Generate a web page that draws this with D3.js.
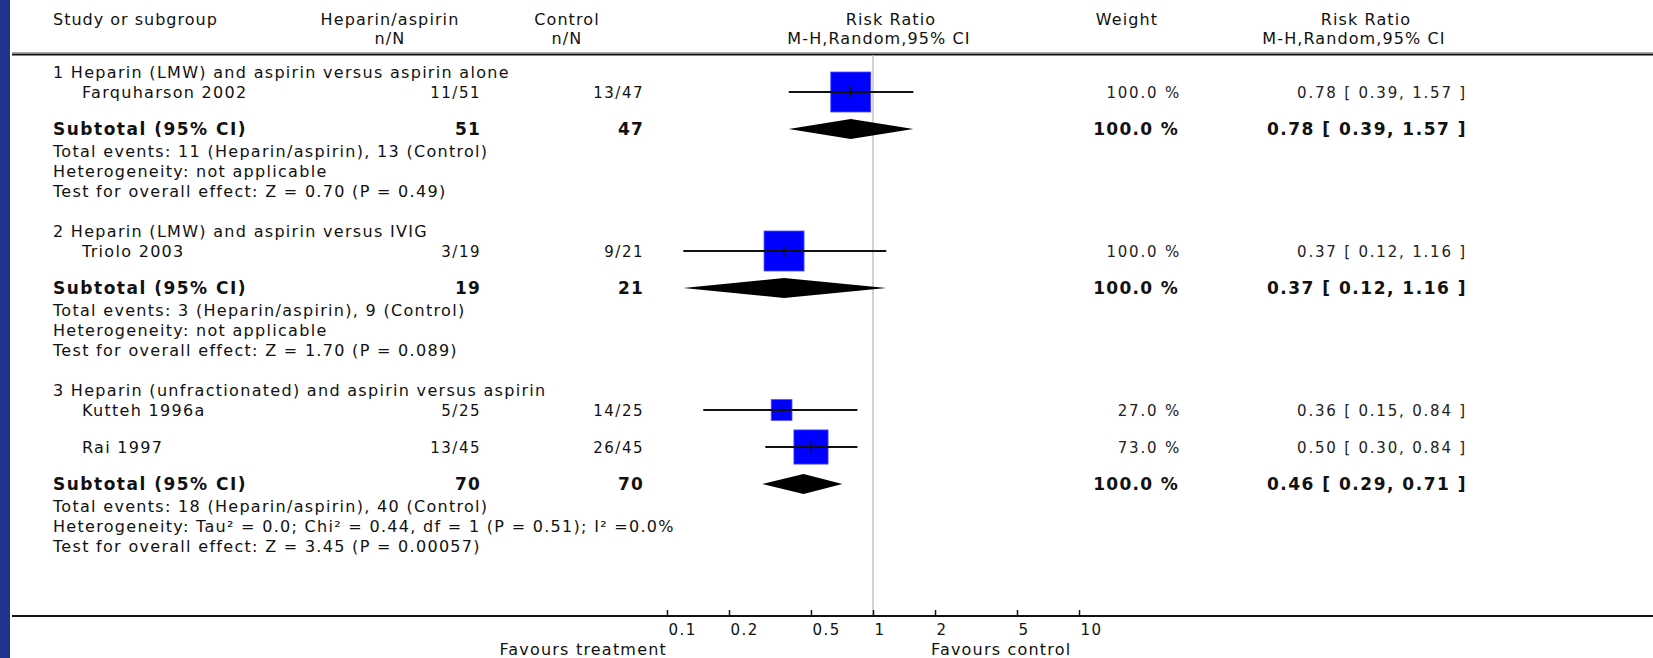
<!DOCTYPE html>
<html>
<head>
<meta charset="utf-8">
<script src="https://cdn.jsdelivr.net/npm/d3@7/dist/d3.min.js"></script>
<style>
  html, body { margin: 0; padding: 0; background: #ffffff; }
  svg { display: block; }
  text { font-family: "DejaVu Sans", Verdana, sans-serif; fill: #111; }
</style>
</head>
<body>
<svg id="chart" width="1653" height="658"></svg>
<script>
// ---------------- data ----------------
const groupTitles = [
  "1 Heparin (LMW) and aspirin versus aspirin alone",
  "2 Heparin (LMW) and aspirin versus IVIG",
  "3 Heparin (unfractionated) and aspirin versus aspirin"
];
const studyNames   = ["Farquharson 2002", "Triolo 2003", "Kutteh 1996a", "Rai 1997"];
const studyGroup   = [0, 1, 2, 2];
const expEvents    = [11, 3, 5, 13];
const expTotal     = [51, 19, 25, 45];
const ctrlEvents   = [13, 9, 14, 26];
const ctrlTotal    = [47, 21, 25, 45];
const studyRR      = [0.78, 0.37, 0.36, 0.50];
const studyLow     = [0.39, 0.12, 0.15, 0.30];
const studyHigh    = [1.57, 1.16, 0.84, 0.84];
const studyWeight  = [100.0, 100.0, 27.0, 73.0];

const subExpTotal   = [51, 19, 70];
const subCtrlTotal  = [47, 21, 70];
const subExpEvents  = [11, 3, 18];
const subCtrlEvents = [13, 9, 40];
const subRR         = [0.78, 0.37, 0.46];
const subLow        = [0.39, 0.12, 0.29];
const subHigh       = [1.57, 1.16, 0.71];
const subWeight     = [100.0, 100.0, 100.0];
const heterogeneity = [
  "not applicable",
  "not applicable",
  "Tau\u00B2 = 0.0; Chi\u00B2 = 0.44, df = 1 (P = 0.51); I\u00B2 =0.0%"
];
const overallEffect = [
  "Z = 0.70 (P = 0.49)",
  "Z = 1.70 (P = 0.089)",
  "Z = 3.45 (P = 0.00057)"
];
const tickValues = [0.1, 0.2, 0.5, 1, 2, 5, 10];
const tickLabels = ["0.1", "0.2", "0.5", "1", "2", "5", "10"];
const expLabel = "Heparin/aspirin";
const ctrlLabel = "Control";

// ---------------- layout ----------------
const W = 1653, H = 658;
const svg = d3.select("#chart");
const col = { left: 53, indent: 82, exp: 481, ctrl: 644, weight: 1181, rr: 1467 };
const axisY = 616, headerLineY = 54;

const x = d3.scaleLog().domain([0.1, 10]).range([667, 1079]);
const side = d3.scaleSqrt().domain([0, 100]).range([0, 40]);
const fmt2 = d3.format(".2f");
const fmtW = v => d3.format(".1f")(v) + " %";
const ciText = (r, l, h) => `${fmt2(r)} [ ${fmt2(l)}, ${fmt2(h)} ]`;

// compute row positions
const rows = [];
let y = 72;
groupTitles.forEach((t, gi) => {
  if (gi > 0) y += 40;
  rows.push({ type: "title", gi, y });
  const idx = studyNames.map((d, i) => i).filter(i => studyGroup[i] === gi);
  idx.forEach((si, k) => {
    y += (k === 0 ? 20 : 37);
    rows.push({ type: "study", si, y });
  });
  y += 37;
  rows.push({ type: "subtotal", gi, y });
  y += 22; rows.push({ type: "events", gi, y });
  y += 20; rows.push({ type: "het", gi, y });
  y += 20; rows.push({ type: "test", gi, y });
});

// background strip
svg.append("rect").attr("x", 0).attr("y", 0).attr("width", 10).attr("height", H).attr("fill", "#1f3391");

const TEXT = 16, NUM = 15, BOLD = 17;
function txt(g, xx, yy, s, opt = {}) {
  return g.append("text")
    .attr("x", xx).attr("y", yy)
    .attr("text-anchor", opt.anchor || "start")
    .attr("font-size", opt.size || TEXT)
    .attr("font-weight", opt.bold ? "bold" : "normal")
    .attr("letter-spacing", opt.ls != null ? opt.ls : 1.3)
    .style("fill", opt.fill || "#111")
    .text(s);
}

// header
const hdr = svg.append("g");
txt(hdr, col.left, 25, "Study or subgroup", { ls: 1.0 });
txt(hdr, 390, 25, expLabel, { anchor: "middle", ls: 1.1 });
txt(hdr, 390, 44, "n/N", { anchor: "middle", ls: 1.1 });
txt(hdr, 567, 25, ctrlLabel, { anchor: "middle", ls: 1.1 });
txt(hdr, 567, 44, "n/N", { anchor: "middle", ls: 1.1 });
txt(hdr, 891, 25, "Risk Ratio", { anchor: "middle", ls: 1.1 });
txt(hdr, 879, 44, "M-H,Random,95% CI", { anchor: "middle", ls: 1.1 });
txt(hdr, 1127, 25, "Weight", { anchor: "middle", ls: 1.1 });
txt(hdr, 1366, 25, "Risk Ratio", { anchor: "middle", ls: 1.1 });
txt(hdr, 1354, 44, "M-H,Random,95% CI", { anchor: "middle", ls: 1.1 });

svg.append("line").attr("x1", 12).attr("x2", W).attr("y1", headerLineY - 1.5).attr("y2", headerLineY - 1.5)
  .attr("stroke", "#aaaaaa").attr("stroke-width", 1.2);
svg.append("line").attr("x1", 12).attr("x2", W).attr("y1", headerLineY + 0.5).attr("y2", headerLineY + 0.5)
  .attr("stroke", "#111").attr("stroke-width", 2);

// null line
svg.append("line").attr("x1", x(1)).attr("x2", x(1)).attr("y1", headerLineY + 1).attr("y2", axisY)
  .attr("stroke", "#b5b5b5").attr("stroke-width", 1.2);

// rows
const body = svg.append("g");
rows.forEach(r => {
  const cy = r.y;
  if (r.type === "title") {
    txt(body, col.left, cy + 5.5, groupTitles[r.gi]);
  } else if (r.type === "study") {
    const i = r.si;
    txt(body, col.indent, cy + 5.5, studyNames[i]);
    txt(body, col.exp, cy + 5.5, `${expEvents[i]}/${expTotal[i]}`, { anchor: "end", size: NUM, ls: 1.5 });
    txt(body, col.ctrl, cy + 5.5, `${ctrlEvents[i]}/${ctrlTotal[i]}`, { anchor: "end", size: NUM, ls: 1.5 });
    txt(body, col.weight, cy + 5.5, fmtW(studyWeight[i]), { anchor: "end", size: NUM, ls: 1.8, fill: "#222" });
    txt(body, col.rr, cy + 5.5, ciText(studyRR[i], studyLow[i], studyHigh[i]), { anchor: "end", size: NUM, ls: 1.8, fill: "#222" });
    const s = side(studyWeight[i]);
    body.append("rect").attr("x", x(studyRR[i]) - s / 2).attr("y", cy - s / 2)
      .attr("width", s).attr("height", s).attr("fill", "#0000ff")
      .attr("stroke", "#4d4dff").attr("stroke-width", 0.8);
    body.append("line").attr("x1", x(studyRR[i])).attr("x2", x(studyRR[i]))
      .attr("y1", cy - 6).attr("y2", cy + 6).attr("stroke", "#111").attr("stroke-width", 1.2);
    body.append("line").attr("x1", x(studyLow[i])).attr("x2", x(studyHigh[i]))
      .attr("y1", cy).attr("y2", cy).attr("stroke", "#111").attr("stroke-width", 2);
  } else if (r.type === "subtotal") {
    const g = r.gi;
    txt(body, col.left, cy + 6, "Subtotal (95% CI)", { size: BOLD, bold: true, ls: 1.5 });
    txt(body, col.exp, cy + 6, subExpTotal[g], { anchor: "end", size: BOLD, bold: true, ls: 1.2 });
    txt(body, col.ctrl, cy + 6, subCtrlTotal[g], { anchor: "end", size: BOLD, bold: true, ls: 1.2 });
    txt(body, col.weight - 2, cy + 6, fmtW(subWeight[g]), { anchor: "end", size: BOLD, bold: true, ls: 1.3 });
    txt(body, col.rr, cy + 6, ciText(subRR[g], subLow[g], subHigh[g]), { anchor: "end", size: BOLD, bold: true, ls: 1.5 });
    const pts = [[x(subLow[g]), cy], [x(subRR[g]), cy - 10], [x(subHigh[g]), cy], [x(subRR[g]), cy + 10]];
    body.append("path").attr("d", d3.line()(pts) + "Z").attr("fill", "#000");
  } else if (r.type === "events") {
    const g = r.gi;
    txt(body, col.left, cy + 5.5, `Total events: ${subExpEvents[g]} (${expLabel}), ${subCtrlEvents[g]} (${ctrlLabel})`);
  } else if (r.type === "het") {
    txt(body, col.left, cy + 5.5, `Heterogeneity: ${heterogeneity[r.gi]}`);
  } else if (r.type === "test") {
    txt(body, col.left, cy + 5.5, `Test for overall effect: ${overallEffect[r.gi]}`);
  }
});

// axis
svg.append("line").attr("x1", 12).attr("x2", W).attr("y1", axisY).attr("y2", axisY)
  .attr("stroke", "#111").attr("stroke-width", 2);
const axis = d3.axisBottom(x).tickValues(tickValues)
  .tickFormat((d, i) => tickLabels[i]).tickSizeInner(-6).tickSizeOuter(0).tickPadding(8);
const ag = svg.append("g").attr("transform", `translate(0,${axisY})`).call(axis);
ag.select(".domain").remove();
ag.selectAll(".tick line").attr("stroke", "#111").attr("stroke-width", 1.5);
ag.selectAll(".tick text")
  .attr("text-anchor", "start").attr("x", 1)
  .attr("font-size", NUM).attr("letter-spacing", 1.5)
  .style("font-family", "'DejaVu Sans', Verdana, sans-serif").style("fill", "#111");

txt(svg, x(0.1), 655, "Favours treatment", { anchor: "end", ls: 1.2 });
txt(svg, 931, 655, "Favours control", { ls: 1.2 });
</script>
</body>
</html>
